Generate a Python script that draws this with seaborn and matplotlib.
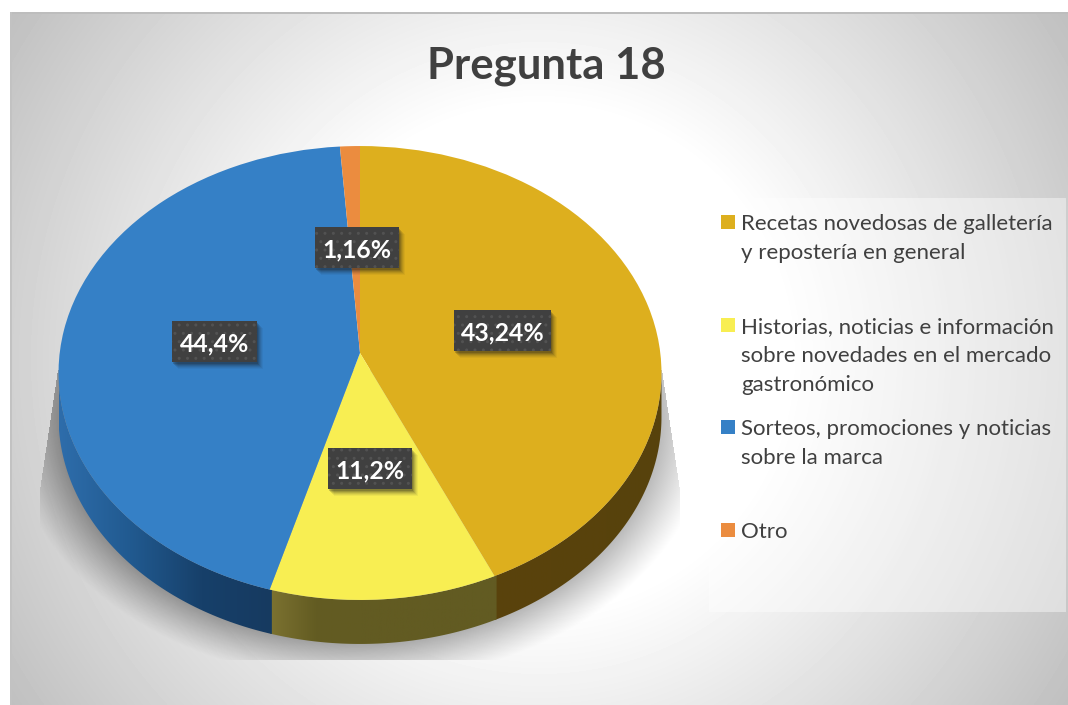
import numpy as np
import matplotlib
matplotlib.use("Agg")
import matplotlib.pyplot as plt
import seaborn as sns
from matplotlib.colors import LinearSegmentedColormap
from matplotlib.patches import Polygon, Rectangle
from matplotlib.transforms import Transform

# ---------- data ----------
title = "Pregunta 18"
categories = ["Recetas novedosas de galletería\ny repostería en general",
              "Historias, noticias e información\nsobre novedades en el mercado\ngastronómico",
              "Sorteos, promociones y noticias\nsobre la marca",
              "Otro"]
values = [43.24, 11.2, 44.4, 1.16]
top_colors = ["#DDAF1E", "#F8EE52", "#3580C6", "#EB8C3F"]
wall_colors = [["#5A430C", "#57420C"],
               ["#7C7231", "#635C22", "#625B22", "#625B22", "#625B22", "#625B22"],
               ["#2E6DAB", "#215A90", "#17406A", "#163A60"], ["#8A5020", "#8A5020"]]
label_boxes = [(454, 310, 97, 41), (328, 448, 84, 41), (172, 321, 85, 41), (315, 227, 84, 41)]
legend_text_y = [230, 333, 435, 538]

W, H = 1068, 705
sns.set_theme(style="white")
plt.rcParams["font.family"] = ["Lato", "DejaVu Sans"]
palette = sns.color_palette(top_colors)

fig = plt.figure(figsize=(W / 100, H / 100), dpi=100, facecolor="white")
ax = fig.add_axes([0, 0, 1, 1])


class Perspective(Transform):
    """Tilted-disc view of the unit circle, in pixel coordinates."""
    input_dims = output_dims = 2
    is_separable = False
    has_inverse = False
    cx, cy, ax_, ay, c = 360.0, 353.0, 300.3, -194.1, 0.0881

    def transform_non_affine(self, xy):
        xy = np.asarray(xy, float)
        d = 1 + self.c * xy[:, 1]
        return np.column_stack([self.cx + self.ax_ * xy[:, 0] / d,
                                (self.cy + self.ay * xy[:, 1]) / d])


persp = Perspective()

# ---------- background ----------
yy, xx = np.mgrid[12:H, 10:W] + 0.5
r = np.hypot(xx - 539, yy - 358)
v = np.clip(255 - (r - 250) * 0.166, 0, 255) / 255
ax.imshow(v, cmap="gray", vmin=0, vmax=1, extent=[10, W, H, 12], aspect="auto", zorder=0)
ax.add_patch(Rectangle((10, 12), W - 10, 1.6, fc="#BDBDBD", ec="none", zorder=0.5))
ax.add_patch(Rectangle((10, 12), 1.6, H - 12, fc="#C2C2C2", ec="none", zorder=0.5))

# ---------- soft shadow below the disc ----------
e = np.hypot((xx - 360) / 302, (yy - 417) / 227)
dist = (e - 1) * 262
fall = np.clip(1 - dist / 44, 0, 1) ** 1.1
strength = np.interp(xx, [40, 680], [0.36, 0.26])
left_edge = np.interp(yy, [370, 490], [58, 40])
right_edge = np.interp(yy, [370, 490], [662, 680])
mask = (yy < 660) & (yy > 370) & (xx > left_edge) & (xx < right_edge)
rgba = np.zeros(xx.shape + (4,))
rgba[..., 3] = fall * strength * mask
ax.imshow(rgba, extent=[10, W, H, 12], aspect="auto", zorder=1)

# ---------- side wall ----------
depth = 44
edges = 90 - np.cumsum([0] + values) * 3.6   # clockwise from the top
for i in range(len(values)):
    hi, lo = edges[i] % 360, edges[i + 1] % 360
    if hi < lo:
        hi += 360
    a0, a1 = max(lo, 185), min(hi + 0.4, 355)
    if a1 <= a0:
        continue
    t = np.radians(np.linspace(a0, a1, 80))
    rim = persp.transform_non_affine(np.column_stack([np.cos(t), np.sin(t)]))
    poly = np.vstack([rim, rim[::-1] + [0, depth]])
    cmap = LinearSegmentedColormap.from_list("w%d" % i, wall_colors[i])
    x0, x1 = poly[:, 0].min(), poly[:, 0].max()
    grad = np.linspace(0, 1, 256)[None, :]
    im = ax.imshow(grad, cmap=cmap, extent=[x0, x1, poly[:, 1].max(), poly[:, 1].min()],
                   aspect="auto", zorder=2)
    clip = Polygon(poly, closed=True, transform=ax.transData, fc="none", ec="none")
    ax.add_patch(clip)
    im.set_clip_path(clip)

# ---------- top face ----------
wedges, _ = ax.pie(values, colors=palette, startangle=90, counterclock=False, radius=1,
                   wedgeprops={"linewidth": 0})
for w in wedges:
    w.set_transform(persp + ax.transData)
    w.set_zorder(3)
    w.set_clip_on(False)

ax.set_aspect("auto")
ax.set_xlim(0, W)
ax.set_ylim(H, 0)
ax.axis("off")

# ---------- data labels ----------
for val, (x, y, bw, bh) in zip(values, label_boxes):
    for off, a in [(7, 0.05), (6, 0.07), (5, 0.09), (4, 0.12), (3, 0.16), (2, 0.2)]:
        ax.add_patch(Rectangle((x + off - 1, y + off), bw, bh, fc="k", alpha=a, lw=0, zorder=4.5))
    ax.add_patch(Rectangle((x, y), bw, bh, fc="#404040", ec="#525252", hatch="..", lw=0, zorder=5))
    ax.text(x + bw / 2, y + bh / 2 + 2.5, f"{val:g}".replace(".", ",") + "%", color="white",
            fontsize=17.8, fontweight="bold", ha="center", va="center", zorder=6)

# ---------- title ----------
ax.text(546, 79, title, color="#404040", fontsize=31.4, fontweight="bold",
        ha="center", va="baseline", zorder=6)

# ---------- legend ----------
ax.add_patch(Rectangle((709, 198), 357, 414, fc="white", alpha=0.42, ec="none", zorder=1.5))
for lab, col, base in zip(categories, palette, legend_text_y):
    ax.add_patch(Rectangle((721, base - 15), 14, 14, fc=col, ec="none", zorder=4))
    for j, line in enumerate(lab.split("\n")):
        ax.text(741, base + j * 29, line, color="#404040", fontsize=16, ha="left",
                va="baseline", zorder=6)

fig.savefig("out.png", dpi=100, facecolor="white")
